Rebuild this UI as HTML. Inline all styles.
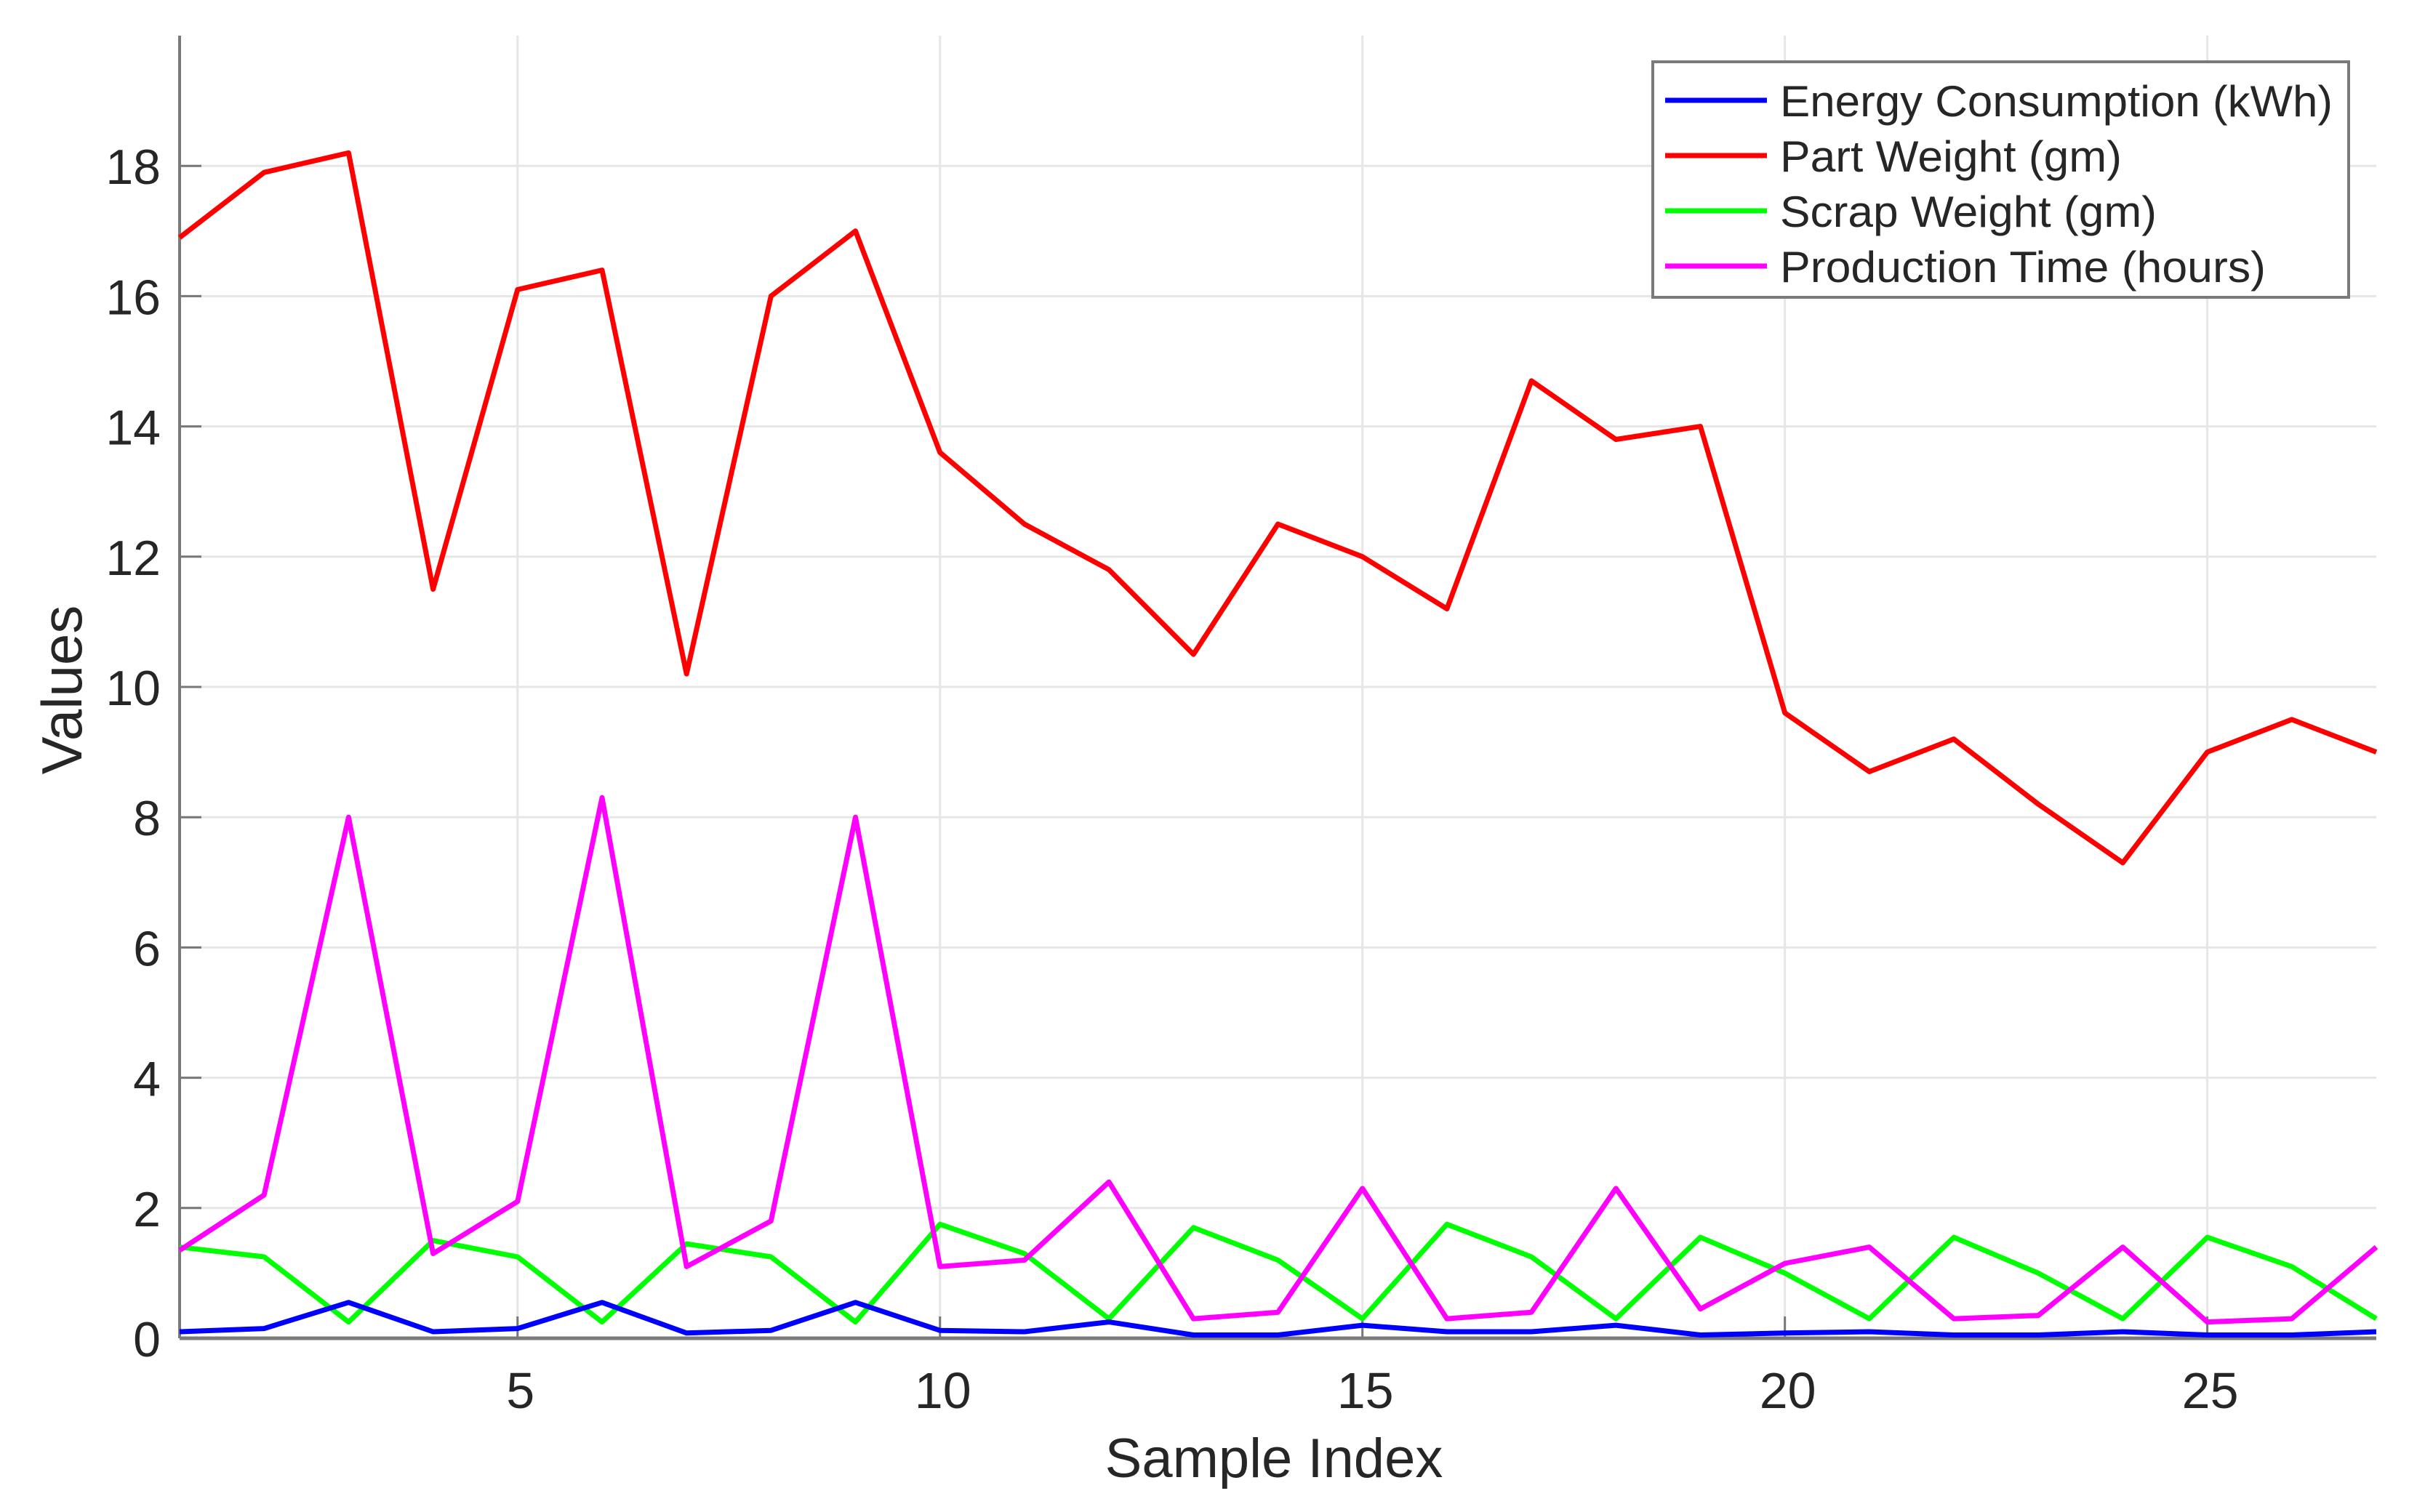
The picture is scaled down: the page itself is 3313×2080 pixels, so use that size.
<!DOCTYPE html>
<html><head><meta charset="utf-8">
<style>
html,body{margin:0;padding:0;background:#fff;}
svg{display:block;font-family:"Liberation Sans",Arial,sans-serif;}
</style></head>
<body>
<svg id="chart" width="3313" height="2080" viewBox="0 0 3313 2080" xmlns="http://www.w3.org/2000/svg">
<rect width="3313" height="2080" fill="#fff"/>
<g id="grid"></g>
<g id="axes"></g>
<g id="series"></g>
<text x="1752" y="2032" font-size="76" text-anchor="middle" fill="#262626">Sample Index</text>
<text x="0" y="0" font-size="78" text-anchor="middle" fill="#262626" transform="translate(112,949) rotate(-90)">Values</text>
<g>
<rect x="2273" y="85" width="957" height="324" fill="#fff" stroke="#7a7a7a" stroke-width="4"/>
<g>
<line x1="2290" y1="138" x2="2430" y2="138" stroke="#0000ff" stroke-width="7"/>
<text x="2448" y="160" font-size="60" fill="#262626" textLength="760" lengthAdjust="spacingAndGlyphs">Energy Consumption (kWh)</text></g>
<g>
<line x1="2290" y1="214" x2="2430" y2="214" stroke="#ff0000" stroke-width="7"/>
<text x="2448" y="236" font-size="60" fill="#262626" textLength="470" lengthAdjust="spacingAndGlyphs">Part Weight (gm)</text></g>
<g>
<line x1="2290" y1="290" x2="2430" y2="290" stroke="#00ff00" stroke-width="7"/>
<text x="2448" y="312" font-size="60" fill="#262626" textLength="518" lengthAdjust="spacingAndGlyphs">Scrap Weight (gm)</text></g>
<g>
<line x1="2290" y1="366" x2="2430" y2="366" stroke="#ff00ff" stroke-width="7"/>
<text x="2448" y="388" font-size="60" fill="#262626" textLength="668" lengthAdjust="spacingAndGlyphs">Production Time (hours)</text></g>
</g>
</svg>
<script>
const sampleIndex = [1,2,3,4,5,6,7,8,9,10,11,12,13,14,15,16,17,18,19,20,21,22,23,24,25,26,27];
const energyValues = [0.1,0.15,0.55,0.1,0.15,0.55,0.08,0.12,0.55,0.12,0.1,0.25,0.05,0.05,0.2,0.1,0.1,0.2,0.05,0.08,0.1,0.05,0.05,0.1,0.05,0.05,0.1];
const partWeightValues = [16.9,17.9,18.2,11.5,16.1,16.4,10.2,16.0,17.0,13.6,12.5,11.8,10.5,12.5,12.0,11.2,14.7,13.8,14.0,9.6,8.7,9.2,8.2,7.3,9.0,9.5,9.0];
const scrapWeightValues = [1.4,1.25,0.25,1.5,1.25,0.25,1.45,1.25,0.25,1.75,1.3,0.3,1.7,1.2,0.3,1.75,1.25,0.3,1.55,1.0,0.3,1.55,1.0,0.3,1.55,1.1,0.3];
const productionTimeValues = [1.35,2.2,8.0,1.3,2.1,8.3,1.1,1.8,8.0,1.1,1.2,2.4,0.3,0.4,2.3,0.3,0.4,2.3,0.45,1.15,1.4,0.3,0.35,1.4,0.25,0.3,1.4];
const xTicks = [5,10,15,20,25];
const yTicks = [0,2,4,6,8,10,12,14,16,18];

const NS = 'http://www.w3.org/2000/svg';
const X0 = 247, X1 = 3268, Y0 = 1841, Y1 = 49;
const xMin = 1, xMax = 27, yMin = 0, yMax = 20;
function xScale(v){ return X0 + (v - xMin) / (xMax - xMin) * (X1 - X0); }
function yScale(v){ return Y0 - (v - yMin) / (yMax - yMin) * (Y0 - Y1); }
function mk(tag, attrs, parent){ const e = document.createElementNS(NS, tag); for (const k in attrs) e.setAttribute(k, attrs[k]); parent.appendChild(e); return e; }

const grid = document.getElementById('grid');
const axes = document.getElementById('axes');
const series = document.getElementById('series');

xTicks.forEach(t => {
  const x = xScale(t);
  const gl = mk('line', {x1:x, y1:Y1, x2:x, y2:Y0, stroke:'#e6e6e6', 'stroke-width':3}, grid);
  
  
  const tk = mk('line', {x1:x, y1:Y0, x2:x, y2:Y0-30, stroke:'#777', 'stroke-width':3}, axes);
  
  
  const lb = mk('text', {x:x+4, y:Y0+96, 'font-size':70, 'text-anchor':'middle', fill:'#262626'}, axes);
  lb.textContent = t;
  
  
});
yTicks.forEach(t => {
  const y = yScale(t);
  const gl = mk('line', {x1:X0, y1:y, x2:X1, y2:y, stroke:'#e6e6e6', 'stroke-width':3}, grid);
  
  
  const tk = mk('line', {x1:X0, y1:y, x2:X0+30, y2:y, stroke:'#777', 'stroke-width':3}, axes);
  
  
  const lb = mk('text', {x:X0-26, y:y+25, 'font-size':68, 'text-anchor':'end', fill:'#262626'}, axes);
  lb.textContent = t;
  
  
});
const ax = mk('line', {x1:X0, y1:Y1, x2:X0, y2:Y0, stroke:'#7a7a7a', 'stroke-width':4}, axes);


const bx = mk('line', {x1:X0, y1:Y0, x2:X1, y2:Y0, stroke:'#7a7a7a', 'stroke-width':5}, axes);



function drawSeries(vals, color, name){
  const pts = vals.map((v,i) => xScale(sampleIndex[i]).toFixed(1) + ',' + yScale(v).toFixed(1)).join(' ');
  const pl = mk('polyline', {points:pts, fill:'none', stroke:color, 'stroke-width':7, 'stroke-linejoin':'round'}, series);
  
  
}
drawSeries(scrapWeightValues, '#00ff00', 'scrap-weight-line');
drawSeries(productionTimeValues, '#ff00ff', 'production-time-line');
drawSeries(energyValues, '#0000ff', 'energy-consumption-line');
drawSeries(partWeightValues, '#ff0000', 'part-weight-line');
</script>
</body></html>
